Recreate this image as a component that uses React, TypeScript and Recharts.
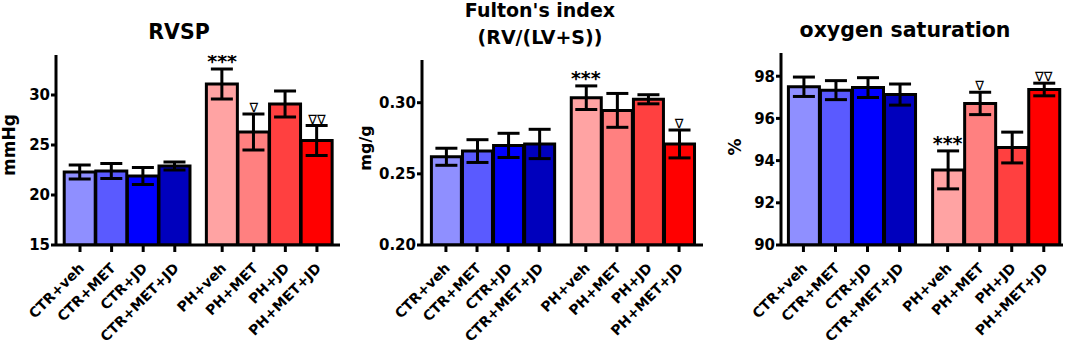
import React from 'react';
import { ComposedChart, Bar, ErrorBar, XAxis, YAxis, Line, Cell } from 'recharts';

const categories = ['CTR+veh', 'CTR+MET', 'CTR+JD', 'CTR+MET+JD', 'PH+veh', 'PH+MET', 'PH+JD', 'PH+MET+JD'];
const barColors = ['#8f8fff', '#5a5aff', '#0000ff', '#0000bd', '#ffa3a3', '#ff8080', '#ff4040', '#ff0000'];

const rvspValues = [22.3, 22.4, 21.9, 22.9, 31.1, 26.3, 29.1, 25.45];
const rvspErrors = [0.7, 0.75, 0.85, 0.4, 1.5, 1.8, 1.3, 1.5];
const rvspNotes = ['', '', '', '', '***', '∇', '', '∇∇'];
const rvspTicks = [15, 20, 25, 30];

const fultonValues = [0.262, 0.266, 0.27, 0.271, 0.3035, 0.2946, 0.3024, 0.271];
const fultonErrors = [0.006, 0.008, 0.0085, 0.0103, 0.0083, 0.0119, 0.0032, 0.0098];
const fultonNotes = ['', '', '', '', '***', '', '', '∇'];
const fultonTicks = [0.2, 0.25, 0.3];

const o2Values = [97.5, 97.34, 97.46, 97.13, 93.56, 96.71, 94.62, 97.37];
const o2Errors = [0.46, 0.45, 0.47, 0.5, 0.9, 0.53, 0.73, 0.3];
const o2Notes = ['', '', '', '', '***', '∇', '', '∇∇'];
const o2Ticks = [90, 92, 94, 96, 98];

const GROUP_SIZE = 4;
const GROUP_GAP = 0.5;
const positions = categories.map((_, i) => (i < GROUP_SIZE ? i : i + GROUP_GAP));

const FONT = '"DejaVu Sans", Verdana, sans-serif';

function buildRows(values: number[], errors: number[], notes: string[]) {
  return categories.map((name, i) => ({
    name,
    pos: positions[i],
    value: values[i],
    err: errors[i],
    top: values[i] + errors[i],
    note: notes[i],
  }));
}

const XTick = (props: any) => {
  const { x, y, payload } = props;
  const idx = positions.indexOf(payload.value);
  const label = idx >= 0 ? categories[idx] : '';
  const px = x + 5;
  const py = y + 15;
  return (
    <text
      x={px}
      y={py}
      transform={`rotate(-45 ${px} ${py})`}
      textAnchor="end"
      fontFamily={FONT}
      fontWeight="bold"
      fontSize={14}
      fill="#000"
    >
      {label}
    </text>
  );
};

const renderNote = (p: any) => {
  const { cx, cy, payload, index } = p;
  const note = payload?.note;
  if (!note || cx == null || cy == null) return <g key={`n-${index}`} />;
  const isStar = note.includes('*');
  return (
    <text
      key={`n-${index}`}
      x={cx}
      y={isStar ? cy - 1 : cy - 2}
      textAnchor="middle"
      fontFamily={FONT}
      fontWeight={isStar ? 'bold' : 'normal'}
      fontSize={isStar ? 19 : 13}
      fill="#000"
    >
      {note}
    </text>
  );
};

type PanelProps = {
  left: number;
  width: number;
  yWidth: number;
  marginRight: number;
  top: number;
  yDomain: [number, number];
  xDomain: [number, number];
  yTicks: number[];
  barSize: number;
  rows: any[];
  fmt?: (v: number) => string;
};

const Panel = (p: PanelProps) => (
  <div style={{ position: 'absolute', left: p.left, top: 0 }}>
    <ComposedChart
      width={p.width}
      height={350}
      data={p.rows}
      margin={{ top: p.top, right: p.marginRight, bottom: 0, left: 0 }}
    >
      <XAxis
        dataKey="pos"
        type="number"
        domain={p.xDomain}
        allowDataOverflow
        ticks={positions}
        interval={0}
        height={105}
        tick={<XTick />}
        tickSize={7}
        tickMargin={2}
        tickLine={{ stroke: '#000', strokeWidth: 3 }}
        axisLine={{ stroke: '#000', strokeWidth: 3 }}
      />
      <YAxis
        type="number"
        domain={p.yDomain}
        allowDataOverflow
        ticks={p.yTicks}
        interval={0}
        width={p.yWidth}
        tickFormatter={p.fmt}
        tickSize={5}
        tickMargin={1}
        tick={{ fontFamily: FONT, fontWeight: 'bold', fontSize: 15, fill: '#000' }}
        tickLine={{ stroke: '#000', strokeWidth: 3 }}
        axisLine={{ stroke: '#000', strokeWidth: 3 }}
      />
      <Bar dataKey="value" barSize={p.barSize} stroke="#000" strokeWidth={3} isAnimationActive={false}>
        {p.rows.map((_, i) => (
          <Cell key={i} fill={barColors[i]} />
        ))}
        <ErrorBar dataKey="err" width={11} stroke="#000" strokeWidth={3} isAnimationActive={false} />
      </Bar>
      <Line
        dataKey="top"
        stroke="none"
        dot={renderNote}
        activeDot={false}
        legendType="none"
        isAnimationActive={false}
      />
    </ComposedChart>
  </div>
);

const titleStyle = { fontFamily: FONT, fontWeight: 'bold' as const, fill: '#000' };

export default function App() {
  return (
    <div style={{ position: 'absolute', left: 0, top: 0, width: 1072, height: 350, background: '#fff' }}>
      <Panel
        left={0}
        width={360}
        yWidth={56}
        marginRight={20}
        top={55}
        yDomain={[15, 34]}
        xDomain={[-0.76, 8.23]}
        yTicks={rvspTicks}
        barSize={31}
        rows={buildRows(rvspValues, rvspErrors, rvspNotes)}
      />
      <Panel
        left={360}
        width={360}
        yWidth={62}
        marginRight={17}
        top={60}
        yDomain={[0.2, 0.33]}
        xDomain={[-0.77, 8.27]}
        yTicks={fultonTicks}
        barSize={30}
        rows={buildRows(fultonValues, fultonErrors, fultonNotes)}
        fmt={(v: number) => v.toFixed(2)}
      />
      <Panel
        left={720}
        width={352}
        yWidth={61}
        marginRight={9}
        top={53}
        yDomain={[90, 99.1]}
        xDomain={[-0.7, 8.1]}
        yTicks={o2Ticks}
        barSize={31}
        rows={buildRows(o2Values, o2Errors, o2Notes)}
      />
      <svg
        width={1072}
        height={350}
        style={{ position: 'absolute', left: 0, top: 0, pointerEvents: 'none' }}
      >
        <text x={179} y={39} textAnchor="middle" fontSize={20.5} {...titleStyle}>RVSP</text>
        <text x={540} y={17} textAnchor="middle" fontSize={19} {...titleStyle}>Fulton's index</text>
        <text x={540} y={44} textAnchor="middle" fontSize={19} {...titleStyle}>(RV/(LV+S))</text>
        <text x={905} y={37} textAnchor="middle" fontSize={20.5} {...titleStyle}>oxygen saturation</text>
        <text x={15} y={145} textAnchor="middle" fontSize={17} transform="rotate(-90 15 145)" {...titleStyle}>mmHg</text>
        <text x={371} y={148} textAnchor="middle" fontSize={16} transform="rotate(-90 371 148)" {...titleStyle}>mg/g</text>
        <text x={741} y={147} textAnchor="middle" fontSize={17} transform="rotate(-90 741 147)" {...titleStyle}>%</text>
      </svg>
    </div>
  );
}
